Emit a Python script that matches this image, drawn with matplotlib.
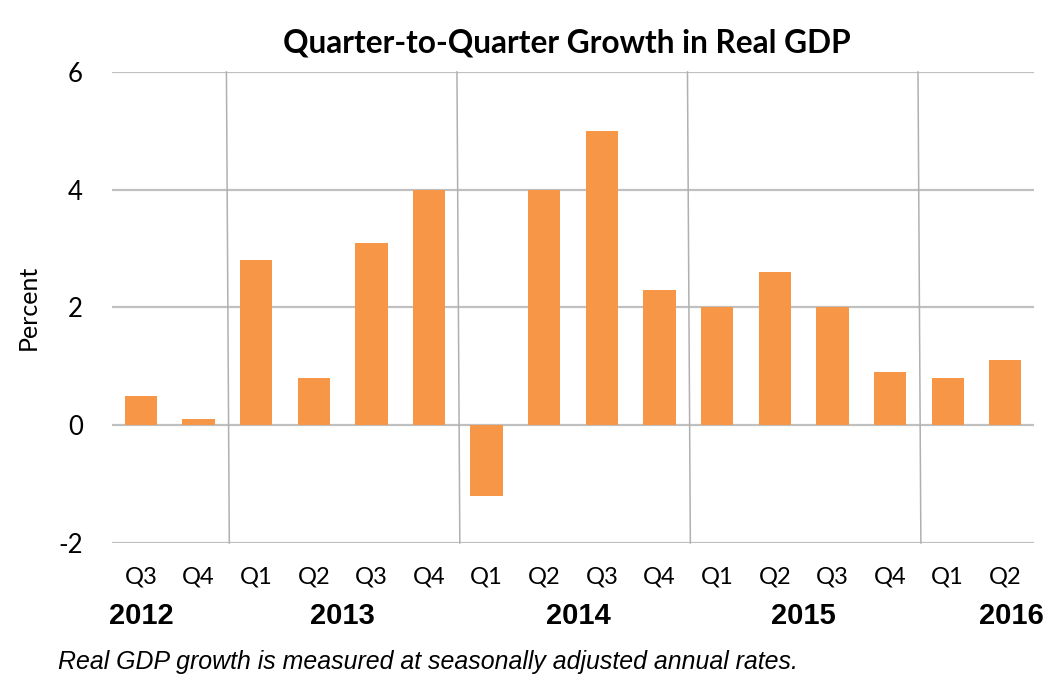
import matplotlib
matplotlib.use("Agg")
import matplotlib.pyplot as plt

# ---- data ----
quarters = ["Q3", "Q4", "Q1", "Q2", "Q3", "Q4", "Q1", "Q2", "Q3", "Q4",
            "Q1", "Q2", "Q3", "Q4", "Q1", "Q2"]
growth = [0.5, 0.1, 2.8, 0.8, 3.1, 4.0, -1.2, 4.0, 5.0, 2.3,
          2.0, 2.6, 2.0, 0.9, 0.8, 1.1]
years = ["2012", "2013", "2014", "2015", "2016"]
yticks = [-2, 0, 2, 4, 6]

# ---- layout ----
year_pos = [0.0, 3.5, 7.6, 11.5, 15.1]
separators = [1.5, 5.5, 9.5, 13.5]

fig = plt.figure(figsize=(10.47, 6.9), dpi=100)
ax = fig.add_axes([0.107, 0.213, 0.8807, 0.6827])

x = list(range(len(growth)))
ax.bar(x, growth, width=0.56, color="#F79646", zorder=3)

ax.set_xlim(-0.5, len(growth) - 0.5)
ax.set_ylim(-2, 6)
ax.set_yticks(yticks)
ax.set_yticklabels([str(t) for t in yticks], fontfamily="Lato", fontsize=18.5)
ax.tick_params(axis="y", length=0, pad=21)
ax.tick_params(axis="x", length=0)
ax.set_xticks(x)
ax.set_xticklabels(quarters, fontfamily="Lato", fontsize=17)
ax.tick_params(axis="x", pad=17)

for s in ax.spines.values():
    s.set_visible(False)

for t in yticks:
    ax.axhline(t, color="#C0C0C0", linewidth=1.6, zorder=1)

for sp in separators:
    ax.plot([sp - 0.015, sp + 0.035], [6, -2], color="#B0B0B0", linewidth=1.1,
            zorder=2, clip_on=False)

for yr, xp in zip(years, year_pos):
    ax.text(xp, -3.24, yr, ha="center", va="center", fontfamily="Liberation Sans",
            fontweight="bold", fontsize=21)

ax.set_ylabel("Percent", fontfamily="Lato", fontsize=18)
ax.yaxis.set_label_coords(-0.078, 0.5)

fig.text(0.5415, 0.937, "Quarter-to-Quarter Growth in Real GDP", ha="center",
         va="center", fontfamily="Lato", fontweight="bold", fontsize=22.8)
fig.text(0.055, 0.04, "Real GDP growth is measured at seasonally adjusted annual rates.",
         ha="left", va="center", fontfamily="Liberation Sans", style="italic",
         fontsize=17.9)

fig.savefig("out.png", dpi=100)
